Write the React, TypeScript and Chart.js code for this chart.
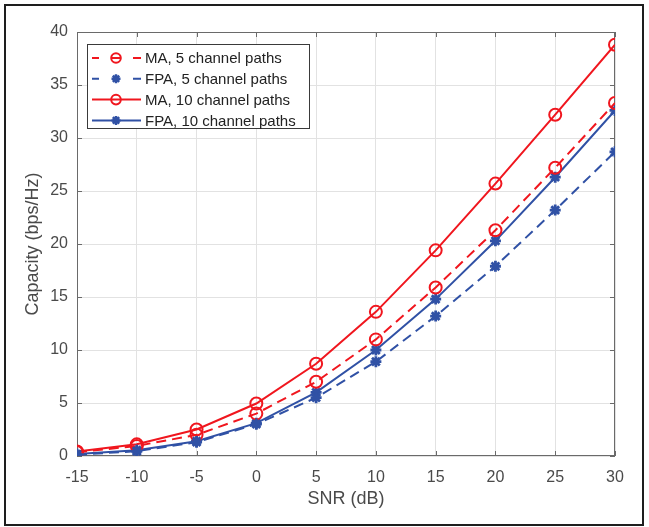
import { useEffect, useRef } from "react";
import { Chart, registerables } from "chart.js";
Chart.register(...registerables);

const snr = [-15, -10, -5, 0, 5, 10, 15, 20, 25, 30];
const ma5 = [0.35, 0.95, 2.0, 4.0, 7.0, 11.0, 15.9, 21.3, 27.2, 33.3];
const fpa5 = [0.12, 0.45, 1.3, 3.0, 5.5, 8.9, 13.2, 17.9, 23.2, 28.7];
const ma10 = [0.42, 1.1, 2.5, 4.95, 8.7, 13.6, 19.4, 25.7, 32.2, 38.8];
const fpa10 = [0.18, 0.55, 1.4, 3.1, 6.0, 10.0, 14.8, 20.3, 26.3, 32.6];
const xTicks = [-15, -10, -5, 0, 5, 10, 15, 20, 25, 30];
const yTicks = [0, 5, 10, 15, 20, 25, 30, 35, 40];
const labels = ["MA, 5 channel paths", "FPA, 5 channel paths", "MA, 10 channel paths", "FPA, 10 channel paths"];

const RED = "#f0161e";
const BLUE = "#3051a5";
const FONT = "'Liberation Sans', Arial, Helvetica, sans-serif";
const DASH = [10, 6];
const TICK_COLOR = "#4a4a4a";

function drawMarker(ctx: CanvasRenderingContext2D, style: string, x: number, y: number, color: string) {
  ctx.save();
  ctx.strokeStyle = color;
  ctx.setLineDash([]);
  if (style === "circle") {
    ctx.lineWidth = 2;
    ctx.beginPath();
    ctx.arc(x, y, 4.8, 0, Math.PI * 2);
    ctx.stroke();
  } else {
    ctx.lineWidth = 2.5;
    const r = 4.5;
    ctx.beginPath();
    for (let i = 0; i < 4; i++) {
      const a = (i * Math.PI) / 4;
      ctx.moveTo(x - r * Math.cos(a), y - r * Math.sin(a));
      ctx.lineTo(x + r * Math.cos(a), y + r * Math.sin(a));
    }
    ctx.stroke();
  }
  ctx.restore();
}

const framePlugin = {
  id: "frame",
  beforeDatasetsDraw(chart: any) {
    const { ctx, chartArea: a, scales } = chart;
    ctx.save();
    ctx.strokeStyle = "#6a6a6a";
    ctx.lineWidth = 1;
    ctx.strokeRect(a.left + 0.5, a.top + 0.5, a.right - a.left - 1, a.bottom - a.top - 1);
    const tl = 5;
    ctx.beginPath();
    xTicks.forEach((v) => {
      const px = Math.round(scales.x.getPixelForValue(v)) + 0.5;
      ctx.moveTo(px, a.bottom);
      ctx.lineTo(px, a.bottom - tl);
      ctx.moveTo(px, a.top);
      ctx.lineTo(px, a.top + tl);
    });
    yTicks.forEach((v) => {
      const py = Math.round(scales.y.getPixelForValue(v)) + 0.5;
      ctx.moveTo(a.left, py);
      ctx.lineTo(a.left + tl, py);
      ctx.moveTo(a.right, py);
      ctx.lineTo(a.right - tl, py);
    });
    ctx.stroke();
    ctx.restore();
  },
  afterDraw(chart: any) {
    const { ctx } = chart;
    ctx.save();
    ctx.strokeStyle = "#1e1e1e";
    ctx.lineWidth = 2;
    ctx.strokeRect(5, 5, 638, 520);
    const bx = 87, by = 44, bw = 222, bh = 84;
    ctx.fillStyle = "#ffffff";
    ctx.fillRect(bx, by, bw, bh);
    ctx.strokeStyle = "#3a3a3a";
    ctx.lineWidth = 1;
    ctx.strokeRect(bx + 0.5, by + 0.5, bw, bh);
    const items = [
      { color: RED, dash: true, marker: "circle" },
      { color: BLUE, dash: true, marker: "star" },
      { color: RED, dash: false, marker: "circle" },
      { color: BLUE, dash: false, marker: "star" },
    ];
    items.forEach((it, i) => {
      const y = by + 14 + i * 20.8;
      ctx.strokeStyle = it.color;
      ctx.lineWidth = 2;
      ctx.setLineDash([]);
      ctx.beginPath();
      if (it.dash) {
        ctx.moveTo(92, y);
        ctx.lineTo(99, y);
        ctx.moveTo(133, y);
        ctx.lineTo(141, y);
      } else {
        ctx.moveTo(92, y);
        ctx.lineTo(141, y);
      }
      ctx.stroke();
      if (it.dash && it.marker === "circle") {
        ctx.beginPath();
        ctx.moveTo(112, y);
        ctx.lineTo(120, y);
        ctx.stroke();
      }
      drawMarker(ctx, it.marker, 116, y, it.color);
      ctx.fillStyle = "#222222";
      ctx.font = `15px ${FONT}`;
      ctx.textBaseline = "middle";
      ctx.textAlign = "left";
      ctx.fillText(labels[i], 145, y + 1);
    });
    ctx.restore();
  },
};

export default function App() {
  const ref = useRef<HTMLCanvasElement | null>(null);
  useEffect(() => {
    document.body.style.margin = "0";
    const canvas = ref.current!;
    const mk = (data: number[], color: string, dashed: boolean, style: string) => ({
      data: snr.map((x, i) => ({ x, y: data[i] })),
      borderColor: color,
      backgroundColor: "rgba(0,0,0,0)",
      borderWidth: 2,
      borderDash: dashed ? DASH : [],
      pointStyle: style,
      pointRadius: style === "circle" ? 6 : 5.5,
      pointBorderWidth: style === "circle" ? 2 : 2.8,
      pointBorderColor: color,
      pointBackgroundColor: "rgba(0,0,0,0)",
      tension: 0,
      fill: false,
    });
    const chart = new Chart(canvas, {
      type: "line",
      data: {
        datasets: [
          mk(fpa5, BLUE, true, "star"),
          mk(ma5, RED, true, "circle"),
          mk(fpa10, BLUE, false, "star"),
          mk(ma10, RED, false, "circle"),
        ] as any,
      },
      options: {
        animation: false,
        responsive: false,
        maintainAspectRatio: false,
        layout: { padding: { top: 32, right: 34, left: 0, bottom: 0 } },
        plugins: { legend: { display: false }, tooltip: { enabled: false } },
        scales: {
          x: {
            type: "linear",
            min: -15,
            max: 30,
            afterBuildTicks: (s: any) => {
              s.ticks = xTicks.map((v) => ({ value: v }));
            },
            afterFit: (s: any) => {
              s.height = 71;
            },
            grid: { color: "#e2e2e2", drawTicks: false },
            border: { display: false },
            ticks: { color: TICK_COLOR, font: { family: FONT, size: 16 }, padding: 12, autoSkip: false, maxRotation: 0 },
            title: {
              display: true,
              text: "SNR (dB)",
              color: TICK_COLOR,
              font: { family: FONT, size: 18 },
              padding: { top: 0, bottom: 17 },
            },
          },
          y: {
            type: "linear",
            min: 0,
            max: 40,
            afterBuildTicks: (s: any) => {
              s.ticks = yTicks.map((v) => ({ value: v }));
            },
            afterFit: (s: any) => {
              s.width = 77;
            },
            grid: { color: "#e2e2e2", drawTicks: false },
            border: { display: false },
            ticks: { color: TICK_COLOR, font: { family: FONT, size: 16 }, padding: 9, autoSkip: false },
            title: {
              display: true,
              text: "Capacity (bps/Hz)",
              color: TICK_COLOR,
              font: { family: FONT, size: 18 },
              padding: { top: 22, bottom: 0 },
            },
          },
        },
      } as any,
      plugins: [framePlugin],
    });
    return () => chart.destroy();
  }, []);
  return (
    <div style={{ width: 649, height: 527 }}>
      <canvas ref={ref} width={649} height={527} style={{ display: "block", width: 649, height: 527 }} />
    </div>
  );
}
